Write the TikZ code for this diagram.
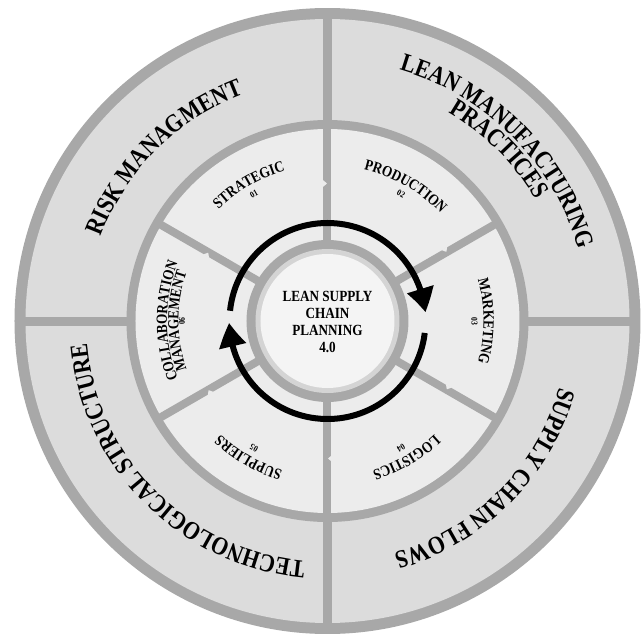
\documentclass[tikz,border=0pt]{standalone}
\usepackage{fontspec}
\setmainfont{Liberation Serif}
\newfontfamily\ringfont{Liberation Serif}[FakeStretch=0.85]
\usetikzlibrary{decorations.text,arrows.meta,bending}

\definecolor{band}{RGB}{168,168,168}
\definecolor{outerfill}{RGB}{220,220,220}
\definecolor{innerfill}{RGB}{236,236,236}
\definecolor{corefill}{RGB}{244,244,244}
\definecolor{corerim}{RGB}{212,212,212}

% type styles for the ring labels
\newcommand\outerfmt{\ringfont\bfseries\fontsize{25.5}{25.5}\selectfont}
\newcommand\secfmt{\ringfont\bfseries\fontsize{15.5}{15.5}\selectfont}
\newcommand\numfmt{\ringfont\bfseries\fontsize{9}{9}\selectfont}

% text set clockwise along an arc, centred on angle #2, baseline radius #3
\newcommand\ringtext[4]{%
  \path[decorate,decoration={text along path,text align=center,text={|#1|#4}}]
    ({#2+70}:#3) arc[start angle={#2+70},end angle={#2-70},radius=#3];}

\tikzset{
  divider/.style={draw=band,line width=#1},
  cyclearrow/.style={line width=6pt,-{Triangle[length=24pt,width=26pt,bend]}}
}

\begin{document}
\begin{tikzpicture}[x=1pt,y=1pt]
\useasboundingbox (-327.5,-312) rectangle (313.5,321);

% outer ring with its four quadrants
\fill[band] (0,0) circle[radius=313];
\fill[outerfill] (0,0) circle[radius=302];
\foreach \a in {0,90,180,270}
  \draw[divider=9pt] (0,0) -- (\a:307);

% inner ring with six sectors
\fill[band] (0,0) circle[radius=201];
\fill[innerfill] (0,0) circle[radius=192];
\foreach \a in {30,90,...,330}{
  \draw[divider=8pt] (0,0) -- (\a:196);
  \fill[innerfill,rotate=\a] (134,4.6) -- (137.5,0.5) -- (141,4.6) -- cycle;
}

% hub
\fill[band] (0,0) circle[radius=81];
\fill[corerim] (0,0) circle[radius=72];
\fill[corefill] (0,0) circle[radius=67];

\node[font=\ringfont\bfseries\fontsize{15.5}{16.7}\selectfont,align=center] (core) at (0,-1)
  {LEAN SUPPLY\\CHAIN\\PLANNING\\4.0};

% circulating arrows around the hub
\draw[cyclearrow] (174:98) arc[start angle=174,end angle=5,radius=98];
\draw[cyclearrow] (-7:98) arc[start angle=-7,end angle=-179,radius=98];

% outer ring labels
\ringtext{\outerfmt}{135}{241.5}{RISK MANAGMENT}
\ringtext{\outerfmt}{45}{261}{LEAN MANUFACTURING}
\ringtext{\outerfmt}{45}{241}{PRACTICES}
\ringtext{\outerfmt}{-45}{241.5}{SUPPLY CHAIN FLOWS}
\ringtext{\outerfmt}{-135}{241.5}{TECHNOLOGICAL STRUCTURE}

% sector labels
\ringtext{\secfmt}{120}{156}{STRATEGIC}
\ringtext{\numfmt}{120}{144}{01}
\ringtext{\secfmt}{60}{156}{PRODUCTION}
\ringtext{\numfmt}{60}{144}{02}
\ringtext{\secfmt}{0}{156}{MARKETING}
\ringtext{\numfmt}{0}{144}{03}
\ringtext{\secfmt}{-60}{156}{LOGISTICS}
\ringtext{\numfmt}{-60}{144}{04}
\ringtext{\secfmt}{-120}{156}{SUPPLIERS}
\ringtext{\numfmt}{-120}{144}{05}
\ringtext{\secfmt}{180}{160.5}{COLLABORATION}
\ringtext{\secfmt}{180}{149}{MANAGEMENT}
\ringtext{\numfmt}{180}{142.5}{06}
\end{tikzpicture}
\end{document}
